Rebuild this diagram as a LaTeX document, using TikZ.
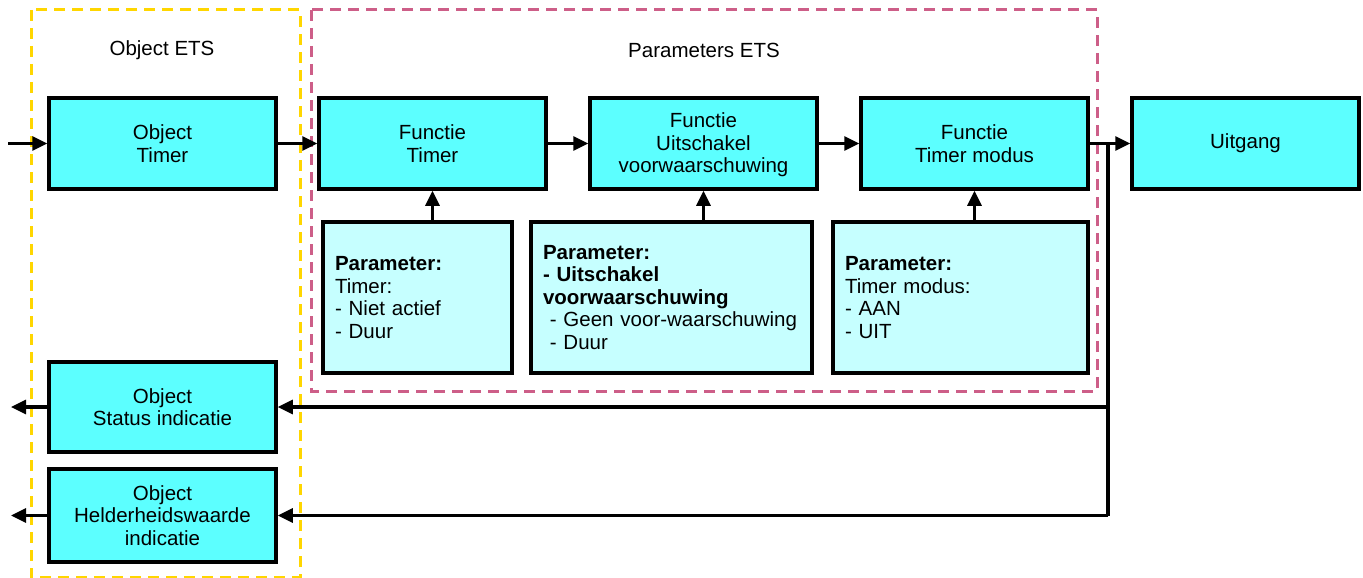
\documentclass[tikz,border=0pt]{standalone}
\usepackage{fontspec}
\setmainfont{Liberation Sans}
\usetikzlibrary{arrows.meta}
\definecolor{boxcyan}{RGB}{92,255,255}
\definecolor{paramcyan}{RGB}{198,255,255}
\definecolor{groupyellow}{RGB}{255,214,0}
\definecolor{grouppink}{RGB}{205,94,136}
\tikzset{
  box/.style={draw=black, line width=3.5pt, fill=boxcyan, minimum width=227pt, minimum height=91pt,
    align=center, inner sep=2pt, font=\fontsize{20.5}{22.5}\selectfont},
  parbox/.style={draw=black, line width=3.5pt, fill=paramcyan, minimum height=151pt,
    align=left, inner xsep=12pt, inner ysep=2pt, font=\fontsize{20.5}{22.5}\selectfont},
  grp/.style={line width=3pt, dash pattern=on 11pt off 7pt},
  lbl/.style={font=\fontsize{20.5}{22.5}\selectfont, inner sep=0pt},
  arr/.style={line width=3.2pt, -{Triangle[length=15pt,width=14pt]}},
  ln/.style={line width=3.2pt}
}
\begin{document}
\begin{tikzpicture}[x=1pt,y=-1pt]
\useasboundingbox (0,0) rectangle (1363,578);
% groups
\draw[grp, groupyellow] (31,10) rectangle (300,577);
\draw[grp, grouppink] (311,10) rectangle (1097,391);
\node[lbl] (lo) at (162,50) {Object ETS};
\node[lbl] (lp) at (704,50) {Parameters ETS};
% main boxes
\node[box] (ot) at (162.5,143.5) {Object\\Timer};
\node[box] (ft) at (432.5,143.5) {Functie\\Timer};
\node[box] (fu) at (703.5,143.5) {\rule{0pt}{18pt}Functie\\Uitschakel\\voorwaarschuwing};
\node[box] (fm) at (974.5,143.5) {Functie\\Timer modus};
\node[box] (ui) at (1245.5,143.5) {Uitgang};
% parameter boxes
\node[parbox, text width=165pt] (p1) at (417.5,297.5) {\textbf{Parameter:}\\Timer:\\- Niet actief\\- Duur};
\node[parbox, text width=257pt] (p2) at (671.5,297.5) {\textbf{Parameter:}\\\textbf{- Uitschakel}\\\textbf{voorwaarschuwing}\\\ - Geen voor-waarschuwing\\\ - Duur};
\node[parbox, text width=231pt] (p3) at (960.5,297.5) {\textbf{Parameter:}\\Timer modus:\\- AAN\\- UIT};
% output objects
\node[box, minimum height=90pt] (os) at (162.5,407) {Object\\Status indicatie};
\node[box, minimum height=93pt] (oh) at (162.5,515.5) {Object\\Helderheidswaarde\\indicatie};
% connectors
\coordinate (in) at (8,143.5);
\draw[arr] (in) -- (ot.west);
\draw[arr] (ot.east) -- (ft.west);
\draw[arr] (ft.east) -- (fu.west);
\draw[arr] (fu.east) -- (fm.west);
\draw[arr] (fm.east) -- (ui.west);
\draw[arr] (p1.north -| ft.south) -- (ft.south);
\draw[arr] (p2.north -| fu.south) -- (fu.south);
\draw[arr] (p3.north -| fm.south) -- (fm.south);
\coordinate (j) at (1108,143.5);
\draw[ln] (j) -- (j |- oh.east);
\draw[arr] (j |- os.east) -- (os.east);
\draw[arr] (j |- oh.east) -- (oh.east);
\coordinate (o1) at (11,407);
\coordinate (o2) at (11,515.5);
\draw[arr] (os.west) -- (o1);
\draw[arr] (oh.west) -- (o2);
\end{tikzpicture}
\end{document}
